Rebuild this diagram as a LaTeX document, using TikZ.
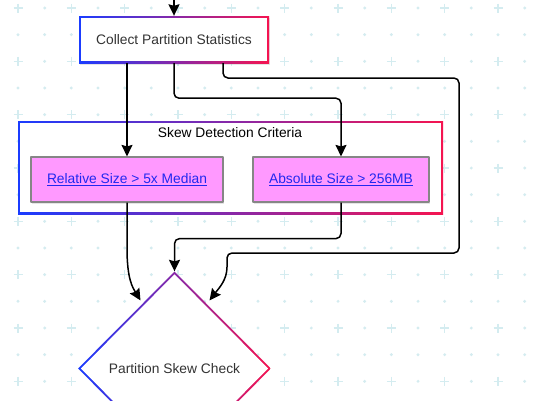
\documentclass[tikz,border=0pt]{standalone}
\usepackage{fontspec}
\setmainfont{Liberation Sans}
\usetikzlibrary{arrows.meta,shapes.geometric,shadows,calc}
\definecolor{gblue}{RGB}{26,60,255}
\definecolor{gred}{RGB}{245,20,80}
\definecolor{gridc}{RGB}{212,236,240}
\definecolor{pinkfill}{RGB}{255,153,255}
\definecolor{linkblue}{RGB}{32,40,240}
\definecolor{txtgray}{RGB}{51,51,51}

\begin{document}
\begin{tikzpicture}[x=1pt, y=-1pt, font=\fontsize{13.8}{16}\selectfont, line join=round, >={Stealth[length=11.5pt,width=11pt,inset=1.5pt]},
	softshadow/.style={drop shadow={shadow xshift=1pt, shadow yshift=-1.5pt, opacity=0.2}},
	gradrect/.style={rectangle, inner sep=0pt, fill=white, text=txtgray,
		path picture={
			\shade[left color=gblue, right color=gred] (path picture bounding box.south west) rectangle (path picture bounding box.north east);
			\fill[white] ([shift={(2pt,2pt)}]path picture bounding box.south west) rectangle ([shift={(-2pt,-2pt)}]path picture bounding box.north east);
		}},
	graddiam/.style={diamond, aspect=1, inner sep=0pt, fill=white, text=txtgray,
		path picture={
			\shade[left color=gblue, right color=gred] (path picture bounding box.south west) rectangle (path picture bounding box.north east);
			\fill[white] ([yshift=-2.8pt]path picture bounding box.north) -- ([xshift=2.8pt]path picture bounding box.west) -- ([yshift=2.8pt]path picture bounding box.south) -- ([xshift=-2.8pt]path picture bounding box.east) -- cycle;
		}},
	critbox/.style={rectangle, draw=gray!95, line width=1.2pt, fill=pinkfill, inner sep=0pt, text=linkblue, minimum height=45pt, softshadow},
	conn/.style={draw=black, line width=1.5pt}]
	\useasboundingbox (0,0) rectangle (536,400);
	\fill[white] (0,0) rectangle (536,400);
	% background grid
	\foreach \i in {0,...,19}
		\foreach \j in {0,...,14}{
			\pgfmathsetmacro{\gx}{18+26.667*\i}
			\pgfmathsetmacro{\gy}{8+26.667*\j}
			\ifodd\i\relax \fill[gridc] (\gx,\gy) circle (1.6pt);
			\else\ifodd\j\relax \fill[gridc] (\gx,\gy) circle (1.6pt);
			\else \draw[gridc, line width=1.6pt] (\gx-4.5,\gy) -- (\gx+4.5,\gy) (\gx,\gy-4.5) -- (\gx,\gy+4.5);
			\fi\fi
		}
	% nodes
	\node[gradrect, softshadow, minimum width=190pt, minimum height=47pt] (coll) at (174,39.5) {Collect Partition Statistics};
	\node[gradrect, minimum width=425pt, minimum height=93pt] (crit) at (230.5,167.5) {};
	\node[text=black] (critlbl) at (230,133) {Skew Detection Criteria};
	\node[critbox, minimum width=192pt] (rel) at (127,179.5) {\underline{Relative Size > 5x Median}};
	\node[critbox, minimum width=176pt] (abs) at (341,179.5) {\underline{Absolute Size > 256MB}};
	\node[graddiam, minimum width=193pt, minimum height=194pt] (dec) at (174.5,368.5) {Partition Skew Check};
	% connectors
	\coordinate (entry) at (174,0);
	\draw[conn, ->] (entry) -- (coll.north);
	\draw[conn, ->] ([xshift=-47pt]coll.south) -- (rel.north);
	\draw[conn, ->, rounded corners=5pt] (coll.south) -- ++(0,35) -| (abs.north);
	\draw[conn, ->, rounded corners=5pt] ([xshift=49pt]coll.south) |- (459,78) |- (227,253) -- (227,262) .. controls (227,280) and (219,288) .. ([xshift=6pt]$(dec.north)!0.3!(dec.east)$);
	\draw[conn, ->] (rel.south) -- (127,248) .. controls (127,280) and (133,288) .. ([xshift=-5pt]$(dec.north)!0.3!(dec.west)$);
	\draw[conn, ->, rounded corners=5pt] (abs.south) -- ++(0,36) -| (dec.north);
\end{tikzpicture}
\end{document}
